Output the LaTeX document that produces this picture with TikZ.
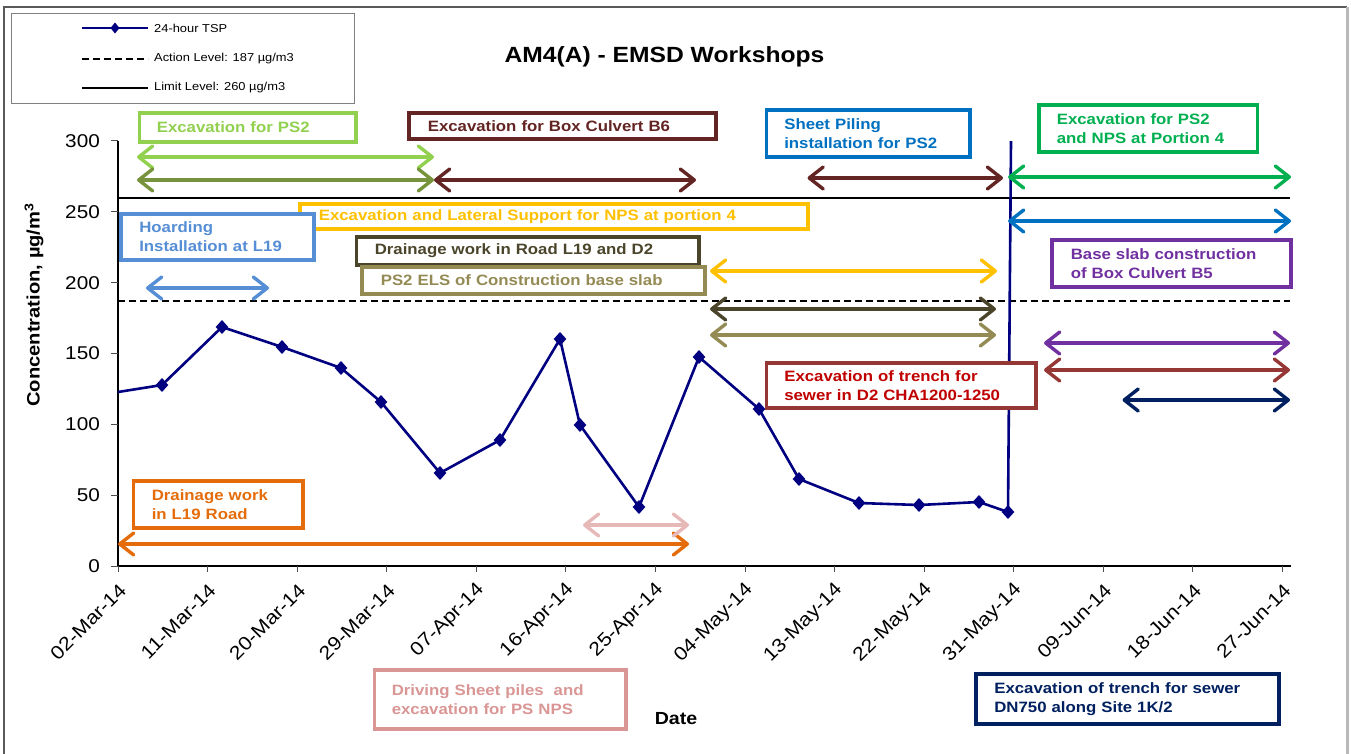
\documentclass[tikz,border=0pt]{standalone}
\usepackage{fontspec}
\setmainfont{Liberation Sans}[FakeStretch=1.12]
\usetikzlibrary{arrows.meta}
\definecolor{tsp}{HTML}{000080}
\definecolor{lgreen}{HTML}{92D050}
\definecolor{ogreen}{HTML}{77933C}
\definecolor{dbrown}{HTML}{632523}
\definecolor{hblue}{HTML}{558ED5}
\definecolor{yel}{HTML}{FFC000}
\definecolor{dolive}{HTML}{4A452A}
\definecolor{khaki}{HTML}{948A54}
\definecolor{sblue}{HTML}{0070C0}
\definecolor{gr}{HTML}{00B050}
\definecolor{purp}{HTML}{7030A0}
\definecolor{rbrown}{HTML}{953735}
\definecolor{dred}{HTML}{C00000}
\definecolor{navyb}{HTML}{002060}
\definecolor{orng}{HTML}{E46C0A}
\definecolor{pinka}{HTML}{E6B9B8}
\definecolor{pinkb}{HTML}{D99694}
\tikzset{
  tbox/.style 2 args={draw=#1, text=#2, line width=3.6pt, fill=white, anchor=north west,
    align=left, inner ysep=1pt, font=\fontsize{15}{19}\selectfont\bfseries},
  arr/.style={draw=#1, line width=3.4pt,
    {Straight Barb[round,length=14pt,width=22pt]}-{Straight Barb[round,length=14pt,width=22pt]}},
  ticklab/.style={inner sep=0pt, font=\fontsize{18.5}{18.5}\selectfont},
  leglab/.style={anchor=west, inner sep=0pt, font=\fontsize{11.5}{11.5}\selectfont},
  tickmark/.style={draw=gray!60!black, line width=1pt},
}
\begin{document}
\begin{tikzpicture}[x=1pt,y=-1pt]
\useasboundingbox (0,0) rectangle (1351,753);
% outer frame
\draw[gray!70!black, line width=1.2pt] (4,760) -- (4,7) -- (1347,7);
\draw[gray!55, line width=3pt] (1347,7) -- (1347,760);
% legend
\draw[gray, line width=0.8pt] (11,13) rectangle (354,103);
\draw[tsp, line width=2.2pt] (82,28) -- (148,28);
\fill[tsp] (115,28) +(0,-5.5) -- +(4.5,0) -- +(0,5.5) -- +(-4.5,0) -- cycle;
\draw[black, line width=2pt, dash pattern=on 7pt off 4pt] (82,59) -- (148,59);
\draw[black, line width=2pt] (82,88) -- (148,88);
\node[leglab] (l1) at (154,28) {24-hour TSP};
\node[leglab] (l2) at (154,59) {Action Level: 187 µg/m3};
\node[leglab] (l3) at (154,88) {Limit Level: 260 µg/m3};
% title
\node[anchor=base, inner sep=0pt, font=\fontsize{22}{22}\selectfont\bfseries] (title) at (664.5,62) {AM4(A) - EMSD Workshops};
% axes
\draw[black, line width=1.3pt] (118,141) -- (118,566) -- (1291,566);
\foreach \v in {0,50,...,300}{
  \draw[tickmark] (111,{566-1.4167*\v}) -- (118,{566-1.4167*\v});
  \node[ticklab, anchor=east] at (100,{566-1.4167*\v}) {\v};
}
\foreach \d [count=\i from 0] in {02-Mar-14,11-Mar-14,20-Mar-14,29-Mar-14,07-Apr-14,16-Apr-14,25-Apr-14,04-May-14,13-May-14,22-May-14,31-May-14,09-Jun-14,18-Jun-14,27-Jun-14}{
  \draw[tickmark] ({118+89.58*\i},566) -- ({118+89.58*\i},572);
  \node[ticklab, rotate=45, anchor=east, font=\fontsize{19}{19}\selectfont] at ({118+89.58*\i+5},587) {\d};
}
\node[rotate=90, inner sep=0pt, font=\fontsize{18}{18}\selectfont\bfseries] (ylab) at (34,305) {Concentration, µg/m\textsuperscript{3}};
\node[inner sep=0pt, font=\fontsize{17.5}{17.5}\selectfont\bfseries] (xlab) at (676,719) {Date};
% levels
\draw[black, line width=2pt] (118,198) -- (1290,198);
\draw[black, line width=2pt, dash pattern=on 7pt off 4pt] (118,301) -- (1290,301);
% TSP series
\draw[tsp, line width=2.6pt, line join=round] (118,392) -- (162,385) -- (222,327) -- (282,347) -- (341,368) -- (381,402) -- (440,473) -- (500,440) -- (560,339) -- (580,425) -- (639,507) -- (699,357) -- (759,409) -- (799,479) -- (859,503) -- (919,505) -- (979,502) -- (1008,512) -- (1011,141);
\foreach \px/\py in {162/385,222/327,282/347,341/368,381/402,440/473,500/440,560/339,580/425,639/507,699/357,759/409,799/479,859/503,919/505,979/502,1008/512}{
  \fill[tsp] (\px,\py) +(0,-7) -- +(6.3,0) -- +(0,7) -- +(-6.3,0) -- cycle;
}
% arrows
\draw[arr=lgreen] (137,157) -- (434,157);
\draw[arr=ogreen] (137,180) -- (434,180);
\draw[arr=dbrown] (434,180) -- (696,180);
\draw[arr=hblue] (146,288) -- (269,288);
\draw[arr=yel] (710,271) -- (997,271);
\draw[arr=dolive] (710,309) -- (996,309);
\draw[arr=khaki] (710,335) -- (996,335);
\draw[arr=dbrown] (807.5,178) -- (1003,178);
\draw[arr=gr] (1008,177) -- (1291,177);
\draw[arr=sblue] (1008,221) -- (1291,221);
\draw[arr=purp] (1044,343) -- (1290,343);
\draw[arr=rbrown] (1044,370) -- (1290,370);
\draw[arr=navyb] (1122.5,400) -- (1290,400);
\draw[arr=orng] (118,544) -- (689,544);
\draw[arr=pinka] (583,525) -- (689,525);
% boxes
\node[tbox={lgreen}{lgreen}, minimum width=216.5pt, minimum height=29pt, inner xsep=17.5pt, text width=181.5pt] (b1) at (137.5,111) {Excavation for PS2};
\node[tbox={dbrown}{dbrown}, minimum width=307pt, minimum height=26pt, inner xsep=19pt, text width=269pt] (b2) at (407,111) {Excavation for Box Culvert B6};
\node[tbox={yel}{yel}, minimum width=508pt, minimum height=25pt, inner xsep=19pt, text width=470pt] (b3) at (298,202) {Excavation and Lateral Support for NPS at portion 4};
\node[tbox={hblue}{hblue}, minimum width=193pt, minimum height=46pt, inner xsep=18.5pt, text width=156pt] (b4) at (119,212) {Hoarding\\Installation at L19};
\node[tbox={dolive}{dolive}, minimum width=342.5pt, minimum height=28pt, inner xsep=18.5pt, text width=305.5pt] (b5) at (354.5,235) {Drainage work in Road L19 and D2};
\node[tbox={khaki}{khaki}, minimum width=343pt, minimum height=27pt, inner xsep=19pt, text width=305pt] (b6) at (360,265) {PS2 ELS of Construction base slab};
\node[tbox={sblue}{sblue}, minimum width=203.5pt, minimum height=47pt, inner xsep=18pt, text width=167.5pt] (b7) at (764.5,108) {Sheet Piling\\installation for PS2};
\node[tbox={gr}{gr}, minimum width=218.5pt, minimum height=47pt, inner xsep=18pt, text width=182.5pt] (b8) at (1037,103) {Excavation for PS2\\and NPS at Portion 4};
\node[tbox={purp}{purp}, minimum width=239pt, minimum height=47pt, inner xsep=19pt, text width=201pt] (b9) at (1050,238) {Base slab construction\\of Box Culvert B5};
\node[tbox={rbrown}{dred}, minimum width=269.5pt, minimum height=45pt, inner xsep=18pt, text width=233.5pt] (b10) at (764.5,361) {Excavation of trench for\\sewer in D2 CHA1200-1250};
\node[tbox={orng}{orng}, minimum width=169.5pt, minimum height=47pt, inner xsep=18.5pt, text width=132.5pt] (b11) at (131.5,479) {Drainage work\\in L19 Road};
\node[tbox={pinkb}{pinkb}, minimum width=251.5pt, minimum height=59pt, inner xsep=17.5pt, text width=216.5pt] (b12) at (372.5,668) {Driving Sheet piles\ \ and\\excavation for PS NPS};
\node[tbox={navyb}{navyb}, minimum width=303pt, minimum height=50pt, inner xsep=18.5pt, text width=266pt] (b13) at (974,672) {Excavation of trench for sewer\\DN750 along Site 1K/2};
\end{tikzpicture}
\end{document}
